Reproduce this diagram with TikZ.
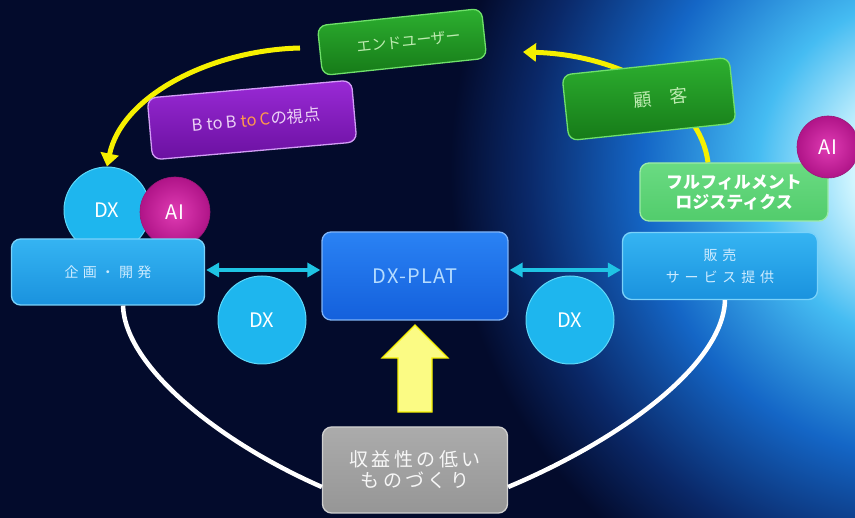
\documentclass[tikz,border=0pt]{standalone}
\usepackage{fontspec}
\setmainfont{Noto Sans CJK JP}
\usetikzlibrary{arrows.meta,calc}

\definecolor{bg}{HTML}{030B2C}
\definecolor{glowA}{HTML}{D2F6FF}
\definecolor{glowB}{HTML}{45BCF2}
\definecolor{glowC}{HTML}{1466C6}
\definecolor{glowD}{HTML}{0A2868}
\definecolor{grnA}{HTML}{2DB030}
\definecolor{grnB}{HTML}{167A18}
\definecolor{grnE}{HTML}{6FE06A}
\definecolor{grnT}{HTML}{BDEBB0}
\definecolor{purA}{HTML}{9A2AD6}
\definecolor{purB}{HTML}{6A10A0}
\definecolor{purE}{HTML}{D29CF6}
\definecolor{purT}{HTML}{EBD0F5}
\definecolor{orgT}{HTML}{FF9A4A}
\definecolor{lbA}{HTML}{35B4F2}
\definecolor{lbB}{HTML}{1A92DE}
\definecolor{lbE}{HTML}{7AD2FA}
\definecolor{lbT}{HTML}{CDEBFF}
\definecolor{dbA}{HTML}{2A82F4}
\definecolor{dbB}{HTML}{1460DC}
\definecolor{dbT}{HTML}{B5DCFF}
\definecolor{dxc}{HTML}{1EB6EE}
\definecolor{dxe}{HTML}{5FD8F8}
\definecolor{aiIn}{HTML}{E03CB4}
\definecolor{aiOut}{HTML}{B01488}
\definecolor{aie}{HTML}{9A1878}
\definecolor{fulA}{HTML}{6ADB82}
\definecolor{fulB}{HTML}{52CC6C}
\definecolor{fulE}{HTML}{9CEBA8}
\definecolor{gryA}{HTML}{ABABAB}
\definecolor{gryB}{HTML}{969696}
\definecolor{gryE}{HTML}{D0D0D0}
\definecolor{cyanArr}{HTML}{1FC4E4}
\definecolor{yel}{HTML}{F6F000}
\definecolor{yelF}{HTML}{FBFB84}

\pgfdeclareradialshading{glowshade}{\pgfpoint{0bp}{0bp}}{color(0bp)=(white); color(4bp)=(glowA); color(9bp)=(glowB); color(15bp)=(glowC); color(21bp)=(glowD); color(25bp)=(bg); color(50bp)=(bg)}

\tikzset{
  box/.style={rounded corners=9pt, align=center, inner sep=2pt, line width=1.3pt},
  greenbox/.style={box, draw=grnE, top color=grnA, bottom color=grnB, text=grnT},
  purplebox/.style={box, draw=purE, top color=purA, bottom color=purB, text=purT},
  lightbluebox/.style={box, draw=lbE, top color=lbA, bottom color=lbB, text=lbT},
  darkbluebox/.style={box, draw=dbA!60!white, top color=dbA, bottom color=dbB, text=dbT},
  fulbox/.style={box, draw=fulE, top color=fulA, bottom color=fulB, text=white},
  graybox/.style={box, draw=gryE, top color=gryA, bottom color=gryB, text=white!94!gray},
  dxcircle/.style={circle, fill=dxc, draw=dxe, line width=1pt, text=white, inner sep=0pt, minimum size=88pt, font=\fontsize{20}{22}\selectfont},
  aicircle/.style={circle, inner color=aiIn, outer color=aiOut, draw=aie, line width=0.6pt, text=white, inner sep=0pt, font=\fontsize{20}{22}\selectfont},
  cyanconn/.style={cyanArr, line width=3.5pt, {Triangle[width=14pt,length=13pt]}-{Triangle[width=14pt,length=13pt]}, shorten <=1pt, shorten >=1pt},
  yellowconn/.style={yel, line width=5pt, -{Triangle[width=18pt,length=13pt]}},
  whiteconn/.style={white, line width=4.5pt}
}

\begin{document}
\begin{tikzpicture}[x=1pt,y=-1pt]
\useasboundingbox (0,0) rectangle (855,518);
% background
\fill[bg] (0,0) rectangle (855,518);
\begin{scope}
  \clip (0,0) rectangle (855,518);
  \shade[shading=glowshade] (930,170) circle (480);
\end{scope}

% nodes beneath connectors
\node[fulbox, minimum width=188pt, minimum height=58pt, font=\bfseries\fontsize{17}{20}\selectfont] (ful) at (734,192) {フルフィルメント\\ロジスティクス};
\node[dxcircle, minimum size=86pt] (dxl) at (107,210) {DX};
\node[aicircle, minimum size=70pt] (ail) at (175,212) {AI};

% yellow arcs
\coordinate (ytip) at (523,52);
\coordinate (ystart) at (300,48);
\draw[yellowconn] ([xshift=-26pt]ful.north) .. controls (700,100) and (622,55) .. (ytip);
\draw[yellowconn] (ystart) .. controls (212,50) and (122,95) .. (dxl.north);

\node[lightbluebox, minimum width=193pt, minimum height=66pt, font=\fontsize{14}{16}\selectfont\addfontfeature{LetterSpace=30}] (kikaku) at (108,272) {企画・開発};
\node[lightbluebox, minimum width=195pt, minimum height=67pt, font=\fontsize{14}{22}\selectfont\addfontfeature{LetterSpace=35}] (hanbai) at (720,266) {販売\\サービス提供};
\node[graybox, minimum width=185pt, minimum height=86pt, font=\fontsize{19}{21}\selectfont\addfontfeature{LetterSpace=18}] (gray) at (415,470) {収益性の低い\\ものづくり};

% white arcs
\draw[whiteconn] ([xshift=15pt]kikaku.south) .. controls (125,365) and (215,440) .. ([yshift=-17pt]gray.west);
\draw[whiteconn] ([xshift=5pt]hanbai.south) .. controls (723,365) and (620,440) .. ([yshift=-17pt]gray.east);

% top boxes
\node[greenbox, rotate=6, minimum width=165pt, minimum height=50pt, font=\fontsize{15}{17}\selectfont] (enduser) at (402,42) {\hspace*{14pt}エンドユーザー};
\node[purplebox, rotate=5, minimum width=205pt, minimum height=62pt, font=\fontsize{16.5}{18}\selectfont] (btob) at (252,120) {\hspace*{8pt}B to B \textcolor{orgT}{to C}の視点};
\node[greenbox, rotate=6, minimum width=168pt, minimum height=66pt, font=\fontsize{18}{20}\selectfont] (kokyaku) at (649,99) {\hspace*{24pt}顧　客};

\node[aicircle, minimum size=62pt] (air) at (828,147) {AI};

\node[darkbluebox, minimum width=186pt, minimum height=88pt, font=\fontsize{20}{22}\selectfont\addfontfeature{LetterSpace=6}] (dxplat) at (415,276) {DX-PLAT};
\node[dxcircle] (dx1) at (262,320) {DX};
\node[dxcircle] (dx2) at (570,320) {DX};

% horizontal connectors
\draw[cyanconn] (kikaku.east |- 0,270) -- (dxplat.west |- 0,270);
\draw[cyanconn] (dxplat.east |- 0,270) -- (hanbai.west |- 0,270);

% yellow block arrow up
\draw[yel, fill=yelF, line width=1.2pt, line join=miter]
  (398,412) -- (398,358) -- (382,358) -- (415,325) -- (448,358) -- (432,358) -- (432,412) -- cycle;
\end{tikzpicture}
\end{document}
